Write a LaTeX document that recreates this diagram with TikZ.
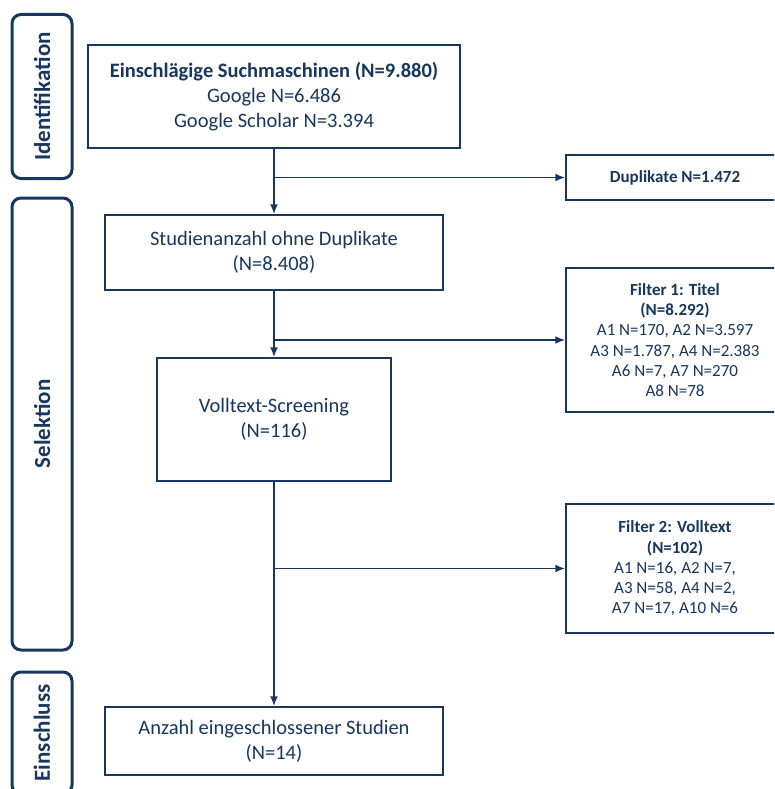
\documentclass[tikz,border=0pt]{standalone}
\usepackage{fontspec}
\setmainfont{Carlito}
\usetikzlibrary{arrows.meta}
\definecolor{navy}{RGB}{23,55,94}
\tikzset{
  mainbox/.style={draw=navy, line width=1.5pt, fill=white, text=navy, align=center,
    inner sep=0pt, font=\fontsize{20.5}{25}\selectfont},
  sidebox/.style={draw=navy, line width=3pt, rounded corners=9pt, text=navy,
    inner sep=0pt, rotate=90, font=\fontsize{23}{26}\selectfont\bfseries},
  exclbox/.style={draw=navy, line width=1.5pt, fill=white, text=navy, align=center,
    inner sep=0pt, font=\fontsize{17}{20.3}\selectfont},
  flow/.style={draw=navy, line width=1.8pt, -{Latex[length=10pt,width=8pt]}}
}
\begin{document}
\begin{tikzpicture}[x=1pt,y=-1pt]
\useasboundingbox (0,0) rectangle (774,789);
\clip (0,0) rectangle (774,789);

% phase labels on the left
\node[sidebox, minimum width=164, minimum height=60] (phase1) at (42,96.5) {Identifikation};
\node[sidebox, minimum width=452, minimum height=60] (phase2) at (42,424) {Selektion};
\node[sidebox, minimum width=122, minimum height=60] (phase3) at (42,733) {Einschluss};

% main flow
\node[mainbox, minimum width=372, minimum height=103] (search) at (274,96.5)
  {\textbf{Einschlägige Suchmaschinen (N=9.880)}\\Google N=6.486\\Google Scholar N=3.394};
\node[mainbox, minimum width=338, minimum height=75] (nodup) at (274,252.5)
  {Studienanzahl ohne Duplikate\\(N=8.408)};
\node[mainbox, minimum width=234, minimum height=123] (fulltext) at (274,419.5)
  {Volltext-Screening\\(N=116)};
\node[mainbox, minimum width=338, minimum height=68] (included) at (274,741)
  {Anzahl eingeschlossener Studien\\(N=14)};

% exclusions on the right
\node[exclbox, minimum width=218, minimum height=45, font=\fontsize{17}{20}\selectfont\bfseries] (dups) at (675,177.5)
  {Duplikate N=1.472};
\node[exclbox, minimum width=218, minimum height=144] (filter1) at (675,340)
  {\textbf{Filter 1: Titel}\\\textbf{(N=8.292)}\\A1 N=170, A2 N=3.597\\A3 N=1.787, A4 N=2.383\\A6 N=7, A7 N=270\\A8 N=78};
\node[exclbox, minimum width=218, minimum height=129] (filter2) at (675,568.5)
  {\textbf{Filter 2: Volltext}\\\textbf{(N=102)}\\A1 N=16, A2 N=7,\\A3 N=58, A4 N=2,\\A7 N=17, A10 N=6};

% connectors
\draw[flow] (search.south) -- (nodup.north);
\draw[flow] (search.south |- dups.west) -- (dups.west);
\draw[flow] (nodup.south) -- (fulltext.north);
\draw[flow] (nodup.south |- filter1.west) -- (filter1.west);
\draw[flow] (fulltext.south) -- (included.north);
\draw[flow] (fulltext.south |- filter2.west) -- (filter2.west);
\end{tikzpicture}
\end{document}
